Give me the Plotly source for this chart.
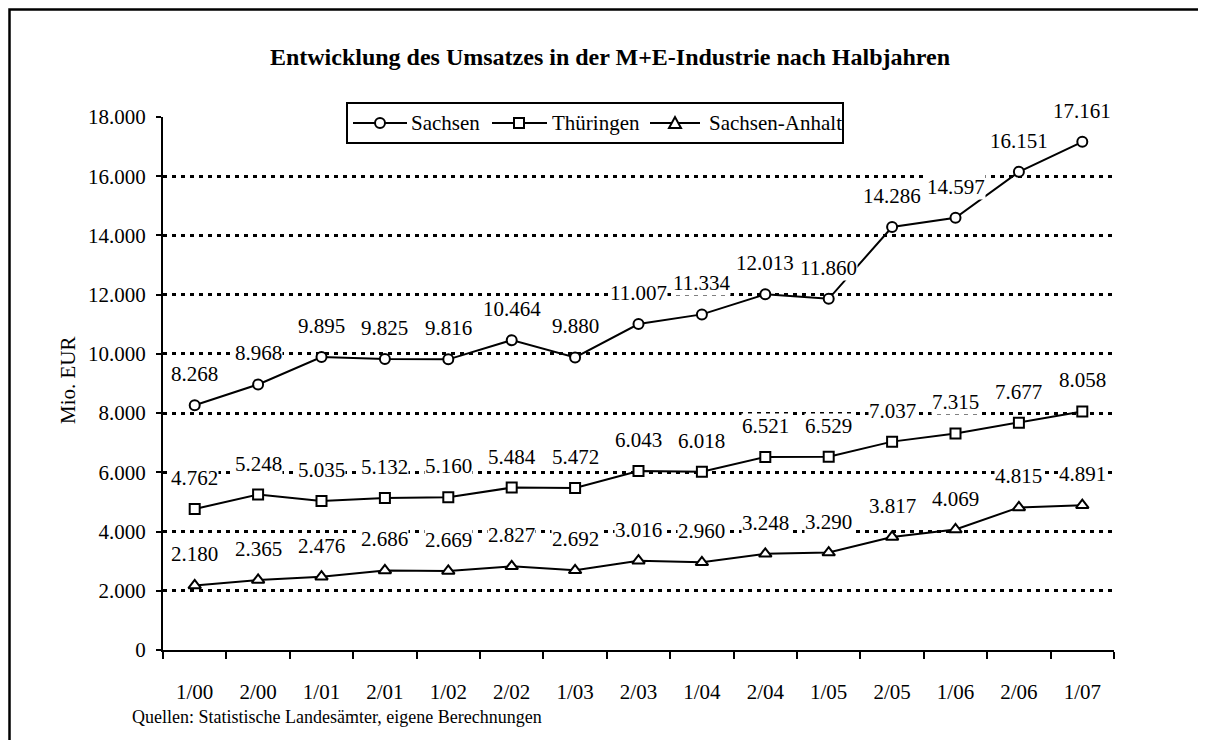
import plotly.graph_objects as go

# Halbjahre
perioden = ["1/00", "2/00", "1/01", "2/01", "1/02", "2/02", "1/03", "2/03",
            "1/04", "2/04", "1/05", "2/05", "1/06", "2/06", "1/07"]

# Umsatz in Mio. EUR
sachsen = [8268, 8968, 9895, 9825, 9816, 10464, 9880, 11007,
           11334, 12013, 11860, 14286, 14597, 16151, 17161]
thueringen = [4762, 5248, 5035, 5132, 5160, 5484, 5472, 6043,
              6018, 6521, 6529, 7037, 7315, 7677, 8058]
sachsen_anhalt = [2180, 2365, 2476, 2686, 2669, 2827, 2692, 3016,
                  2960, 3248, 3290, 3817, 4069, 4815, 4891]

y_ticks = [0, 2000, 4000, 6000, 8000, 10000, 12000, 14000, 16000, 18000]

FONT = "Liberation Serif"
FS = 21

# Plotbereich in Pixeln (Figur-Koordinaten; die Seite verschiebt um 8px)
L, R, T, B = 155, 1106, 109, 642
W, H = 1206, 740
PW, PH = R - L, B - T
OFF = 8


def xp(px):
    return (px - OFF - L) / PW


def yp(py):
    return (B - (py - OFF)) / PH


def de(v):
    return f"{v:,}".replace(",", ".")


serien = [
    ("Sachsen", sachsen, "circle", 10),
    ("Thüringen", thueringen, "square", 10),
    ("Sachsen-Anhalt", sachsen_anhalt, "triangle-up", 11),
]

fig = go.Figure()
for name, werte, symbol, size in serien:
    fig.add_trace(go.Scatter(
        x=perioden, y=werte, name=name, mode="lines+markers",
        line=dict(color="black", width=2),
        marker=dict(symbol=symbol, size=size, color="white",
                    line=dict(color="black", width=2)),
        hoverinfo="skip", showlegend=False,
    ))

# Datenbeschriftungen mit weissem Hintergrund
annotations = []
for name, werte, symbol, size in serien:
    for p, v in zip(perioden, werte):
        annotations.append(dict(
            x=p, y=v, xref="x", yref="y", text=de(v), showarrow=False,
            yshift=31, bgcolor="white", borderpad=0,
            font=dict(family=FONT, size=FS, color="black"),
        ))

annotations.append(dict(
    x=xp(68), y=yp(380), xref="paper", yref="paper",
    xanchor="center", yanchor="middle",
    text="Mio. EUR", textangle=-90, showarrow=False,
    font=dict(family=FONT, size=FS, color="black"),
))
annotations.append(dict(
    x=xp(130), y=yp(717), xref="paper", yref="paper",
    xanchor="left", yanchor="middle",
    text="Quellen: Statistische Landesämter, eigene Berechnungen",
    showarrow=False, font=dict(family=FONT, size=18, color="black"),
))

# Rahmen um die Grafik
shapes = [dict(
    type="rect", xref="paper", yref="paper",
    x0=xp(9.5), x1=xp(W + 30), y0=yp(H + 30), y1=yp(9.5),
    line=dict(color="black", width=2.5), fillcolor="rgba(0,0,0,0)",
    layer="below",
)]

# Legende (Kasten, Linien, Symbole, Texte)
LEG_Y = 123
shapes.append(dict(
    type="rect", xref="paper", yref="paper",
    x0=xp(347), x1=xp(843), y0=yp(143), y1=yp(103),
    line=dict(color="black", width=2), fillcolor="white", layer="above",
))
leg_items = [(353, 407, 380, 409), (492, 547, 519, 550), (650, 700, 675, 707)]
for (name, werte, symbol, size), (l0, l1, mx, tx) in zip(serien, leg_items):
    shapes.append(dict(
        type="line", xref="paper", yref="paper",
        x0=xp(l0), x1=xp(l1), y0=yp(LEG_Y), y1=yp(LEG_Y),
        line=dict(color="black", width=2), layer="above",
    ))
    if symbol == "circle":
        shapes.append(dict(
            type="circle", xref="paper", yref="paper",
            x0=xp(mx - 5), x1=xp(mx + 5), y0=yp(LEG_Y + 5), y1=yp(LEG_Y - 5),
            line=dict(color="black", width=2), fillcolor="white", layer="above",
        ))
    elif symbol == "square":
        shapes.append(dict(
            type="rect", xref="paper", yref="paper",
            x0=xp(mx - 5), x1=xp(mx + 5), y0=yp(LEG_Y + 5), y1=yp(LEG_Y - 5),
            line=dict(color="black", width=2), fillcolor="white", layer="above",
        ))
    else:
        path = "M{},{} L{},{} L{},{} Z".format(
            xp(mx - 6), yp(LEG_Y + 5), xp(mx + 6), yp(LEG_Y + 5),
            xp(mx), yp(LEG_Y - 6))
        shapes.append(dict(
            type="path", xref="paper", yref="paper", path=path,
            line=dict(color="black", width=2), fillcolor="white", layer="above",
        ))
    annotations.append(dict(
        x=xp(tx), y=yp(LEG_Y), xref="paper", yref="paper",
        xanchor="left", yanchor="middle", text=name, showarrow=False,
        font=dict(family=FONT, size=FS, color="black"),
    ))

fig.update_layout(
    width=W, height=H,
    margin=dict(l=L, r=W - R, t=T, b=H - B, autoexpand=False),
    paper_bgcolor="white", plot_bgcolor="white",
    font=dict(family=FONT, size=FS, color="black"),
    separators=",.",
    title=dict(
        text="<b>Entwicklung des Umsatzes in der M+E-Industrie nach Halbjahren</b>",
        xref="container", yref="container", x=(610 - OFF) / W,
        y=1 - (57 - OFF) / H, xanchor="center", yanchor="middle",
        font=dict(family=FONT, size=24, color="black"),
    ),
    showlegend=False,
    xaxis=dict(
        type="category", range=[-0.5, 14.5],
        showline=True, linecolor="black", linewidth=2,
        ticks="outside", tickson="boundaries", ticklen=7, tickwidth=2,
        tickcolor="black", ticklabelstandoff=22, showgrid=False,
        tickfont=dict(family=FONT, size=FS, color="black"),
    ),
    yaxis=dict(
        range=[0, 18000], tickvals=y_ticks, tickformat=",d",
        showline=True, linecolor="black", linewidth=2,
        ticks="outside", ticklen=5, tickwidth=2, tickcolor="black",
        ticklabelstandoff=6,
        showgrid=True, gridcolor="black", gridwidth=3, griddash="4px,5px",
        zeroline=False,
        tickfont=dict(family=FONT, size=FS, color="black"),
    ),
    yaxis2=dict(
        overlaying="y", side="left", anchor="x", range=[0, 18000],
        tickvals=y_ticks, ticks="inside", ticklen=5, tickwidth=2,
        tickcolor="black", showticklabels=False, showgrid=False,
        showline=False, zeroline=False,
    ),
    annotations=annotations,
    shapes=shapes,
)

fig.write_html("out.html")
